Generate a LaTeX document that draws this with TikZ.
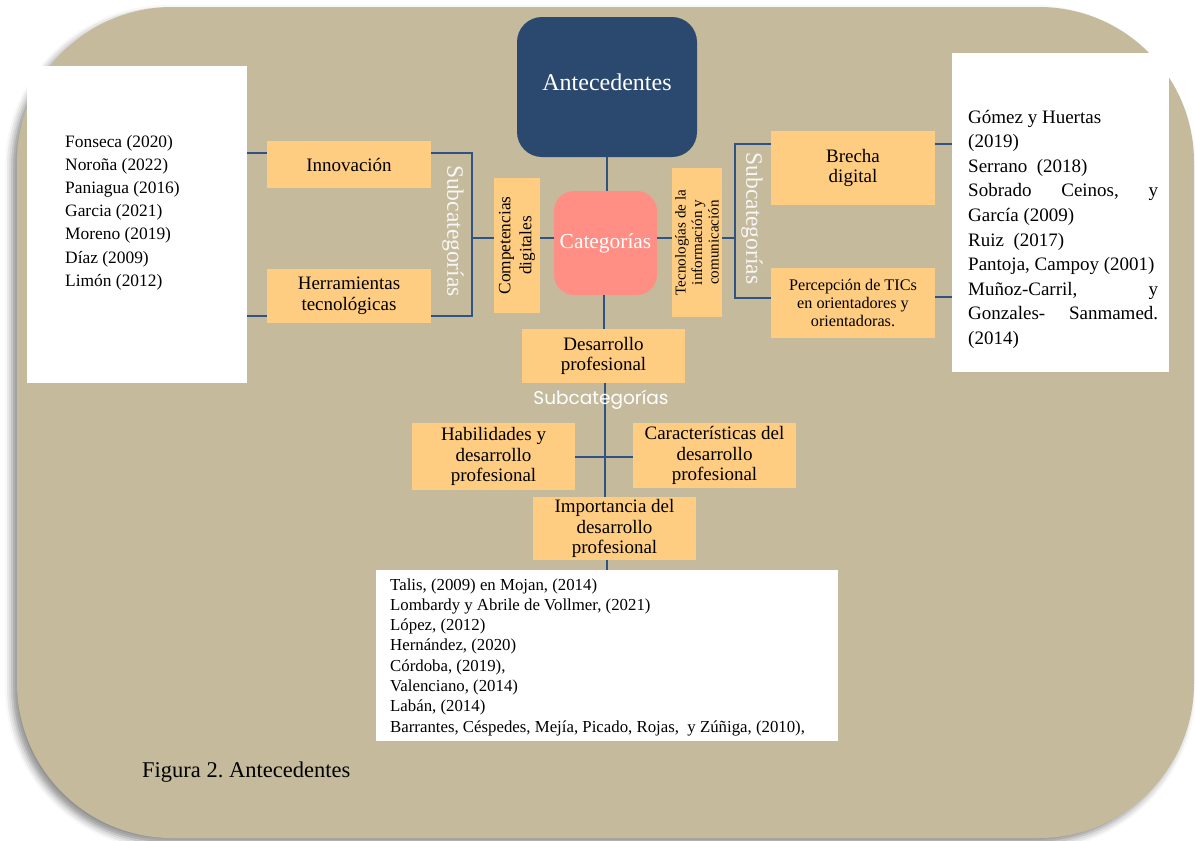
\documentclass[tikz,border=0pt]{standalone}
\usepackage{fontspec}
\setmainfont{Liberation Serif}
\newfontfamily\popfont{Poppins}
\usetikzlibrary{shadows.blur}
\definecolor{tan}{RGB}{197,187,156}
\definecolor{obox}{RGB}{255,205,130}
\definecolor{salmon}{RGB}{255,142,132}
\definecolor{navy}{RGB}{43,73,111}
\definecolor{lnk}{RGB}{47,83,130}
\newcommand\myfs[2]{\fontsize{#1}{#2}\selectfont}
\tikzset{
  bgbox/.style={fill=tan, rounded corners=155pt, blur shadow={shadow xshift=-5pt, shadow yshift=-5pt, shadow blur radius=7pt, shadow opacity=45}},
  ob/.style={fill=obox, inner sep=0pt, align=center, font=\myfs{19}{20.5}},
  wb/.style={fill=white, inner sep=0pt},
  reflist/.style={anchor=base west, inner sep=0pt},
  conn/.style={draw=lnk, line width=2pt},
  subv/.style={text=white!93!gray, font=\myfs{23.5}{24}, rotate=-90, inner sep=0pt},
}
\begin{document}
\begin{tikzpicture}[x=1pt,y=-1pt]
\useasboundingbox (0,0) rectangle (1195,841);
\path[bgbox] (17,7) rectangle (1194,838);

% central nodes
\node[fill=navy, rounded corners=25pt, minimum width=180pt, minimum height=140pt, inner sep=0pt, text=white, font=\myfs{24}{26}] (ant) at (607,87) {\raisebox{9pt}{Antecedentes}};
\node[fill=salmon, rounded corners=20pt, minimum width=103pt, minimum height=104pt, inner sep=0pt, text=white, font=\myfs{21.4}{23}] (cat) at (605.5,243) {Categorías};

% left branch
\node[ob, rotate=90, minimum width=135pt, minimum height=46pt, font=\myfs{17.3}{21}] (comp) at (517,245.5) {Competencias\\digitales};
\node[ob, minimum width=164pt, minimum height=47pt] (innov) at (349,164.5) {Innovación};
\node[ob, minimum width=164pt, minimum height=54pt] (herr) at (349,296) {Herramientas\\tecnológicas};
\node[wb, minimum width=220pt, minimum height=317pt] (lbox) at (137,224.5) {};
\node[reflist] (ltext) at (65,147) {\parbox[t]{170pt}{\myfs{17.4}{23.2}\raggedright
Fonseca (2020)\\
Noroña (2022)\\
Paniagua (2016)\\
Garcia (2021)\\
Moreno (2019)\\
Díaz (2009)\\
Limón (2012)}};
\coordinate (bl) at (472,238);

% right branch
\node[ob, rotate=90, minimum width=149pt, minimum height=50pt, font=\myfs{15.1}{16.5}] (tic) at (697,242.5) {Tecnologías de la\\información y\\comunicación};
\node[ob, minimum width=164pt, minimum height=74pt] (brecha) at (853,168) {Brecha\\digital};
\node[ob, minimum width=164pt, minimum height=70pt, font=\myfs{16.2}{18}] (perc) at (853,303) {Percepción de TICs\\en orientadores y\\orientadoras.};
\node[wb, minimum width=217pt, minimum height=319pt] (rbox) at (1060.5,212.5) {};
\node[reflist] (rtext) at (968,123) {\parbox[t]{190pt}{\myfs{19}{24.6}\raggedright
Gómez y Huertas\\
(2019)\\
Serrano\ \ (2018)\\
Sobrado \hfill Ceinos, \hfill y\\
García (2009)\\
Ruiz\ \ (2017)\\
Pantoja, Campoy (2001)\\
Muñoz-Carril, \hfill y\\
Gonzales- \hfill Sanmamed.\\
(2014)}};
\coordinate (br) at (735,238);

% bottom branch
\node[ob, minimum width=163pt, minimum height=54pt] (des) at (603.5,356) {Desarrollo\\profesional};
\node[ob, minimum width=163pt, minimum height=67pt] (hab) at (493.5,456.5) {Habilidades y\\desarrollo\\profesional};
\node[ob, minimum width=163pt, minimum height=65pt] (car) at (714.5,455.5) {Características del\\desarrollo\\profesional};
\node[ob, minimum width=163pt, minimum height=63pt] (imp) at (614.5,528.5) {Importancia del\\desarrollo\\profesional};
\node[wb, minimum width=462pt, minimum height=171pt] (bbox) at (607,655.5) {};
\node[reflist] (btext) at (390,590) {\parbox[t]{440pt}{\myfs{16.8}{20.3}\raggedright
Talis, (2009) en Mojan, (2014)\\
Lombardy y Abrile de Vollmer, (2021)\\
López, (2012)\\
Hernández, (2020)\\
Córdoba, (2019),\\
Valenciano, (2014)\\
Labán, (2014)\\
Barrantes, Céspedes, Mejía, Picado, Rojas,\ \ y Zúñiga, (2010),}};

% connectors
\draw[conn] (ant.south) -- (ant.south |- cat.north);
\draw[conn] ([yshift=5pt]cat.west) -- ([yshift=5pt]cat.west -| comp.south);
\draw[conn] (comp.north |- bl) -- (bl);
\draw[conn] ([yshift=12pt]innov.east) -| (bl) |- ([yshift=-20pt]herr.east);
\draw[conn] ([yshift=12pt]innov.west) -- ([yshift=12pt]innov.west -| lbox.east);
\draw[conn] ([yshift=-20pt]herr.west) -- ([yshift=-20pt]herr.west -| lbox.east);

\draw[conn] ([yshift=5pt]cat.east) -- ([yshift=5pt]cat.east -| tic.north);
\draw[conn] (tic.south |- br) -- (br);
\draw[conn] ([yshift=24pt]brecha.west) -| (br) |- ([yshift=5pt]perc.west);
\draw[conn] ([yshift=24pt]brecha.east) -- ([yshift=24pt]brecha.east -| rbox.west);
\draw[conn] ([yshift=6pt]perc.east) -- ([yshift=6pt]perc.east -| rbox.west);

\draw[conn] ([xshift=-2pt]cat.south) -- ([xshift=-2pt]cat.south |- des.north);
\draw[conn] ([xshift=1pt]des.south) -- ([xshift=1pt]des.south |- imp.north);
\draw[conn] (hab.east) -- (hab.east -| car.west);
\draw[conn] (imp.south -| bbox.north) -- (bbox.north);

% subcategory labels
\node[subv] (subl) at (453,231) {Subcategorías};
\node[subv] (subr) at (752,218.5) {Subcategorías};
\node[text=white, font=\popfont\myfs{18.5}{19}, inner sep=0pt] (subb) at (601,400) {Subcategorías};

% caption
\node[anchor=base west, inner sep=0pt, font=\myfs{22.5}{24}] (cap) at (142,777) {Figura 2.\ Antecedentes};
\end{tikzpicture}
\end{document}
